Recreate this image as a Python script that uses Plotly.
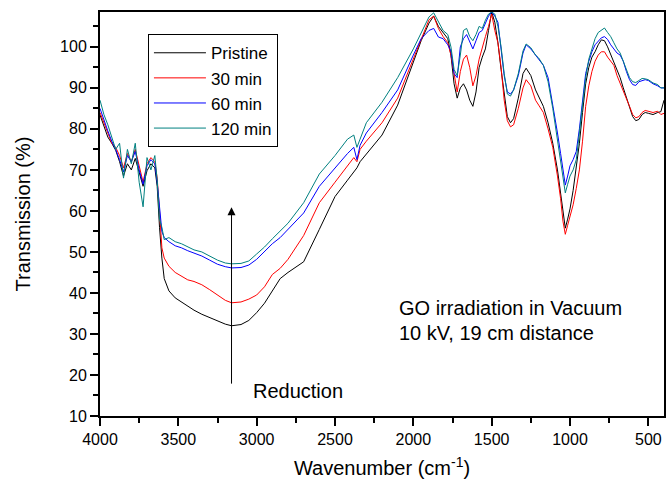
import plotly.graph_objects as go

wavenumber = [
    4000, 3975, 3950, 3925, 3900, 3875, 3850, 3825, 3800, 3775,
    3750, 3725, 3700, 3675, 3650, 3635, 3620, 3605, 3590, 3560,
    3520, 3480, 3440, 3400, 3350, 3300, 3250, 3200, 3160, 3100,
    3050, 3000, 2950, 2900, 2850, 2800, 2700, 2600, 2500, 2420,
    2380, 2360, 2340, 2300, 2200, 2100, 2000, 1950, 1900, 1870,
    1840, 1810, 1780, 1760, 1740, 1720, 1700, 1680, 1660, 1640,
    1620, 1600, 1580, 1560, 1540, 1520, 1500, 1480, 1460, 1440,
    1420, 1400, 1380, 1360, 1330, 1300, 1280, 1250, 1220, 1200,
    1170, 1140, 1110, 1080, 1060, 1045, 1030, 1015, 1000, 980,
    960, 940, 920, 900, 880, 860, 840, 820, 800, 780,
    760, 740, 720, 700, 680, 660, 640, 620, 600, 580,
    560, 540, 520, 500, 470, 440, 420, 400,
]

pristine = [
    83.4, 80.5, 78.0, 76.5, 74.8, 72.0, 68.5, 71.5, 70.0, 72.8,
    69.5, 66.0, 69.8, 71.5, 70.5, 66.0, 56.0, 48.5, 43.5, 40.5,
    38.8, 37.8, 36.8, 35.8, 34.8, 34.0, 33.2, 32.4, 32.0, 32.3,
    33.3, 35.2, 37.5, 40.5, 43.5, 45.0, 47.6, 55.5, 63.5, 67.5,
    69.5, 70.5, 72.0, 73.8, 78.5, 85.8, 96.5, 101.5, 105.8, 107.5,
    105.0, 103.5, 102.0, 98.0, 91.0, 87.5, 90.0, 91.0, 89.5, 87.0,
    85.5, 89.0, 95.0, 97.5, 99.5, 104.0, 108.5, 106.0, 101.0, 94.5,
    88.0, 83.0, 81.5, 82.5, 87.5, 93.5, 94.8, 93.0, 89.5, 88.0,
    85.5, 81.5, 76.5, 70.0, 64.5, 59.5, 55.8, 58.0, 60.5, 65.0,
    70.5, 76.5, 84.0, 91.0, 95.0, 97.5, 98.8, 100.5, 101.7, 101.5,
    100.0, 98.2, 96.5, 94.5, 92.5, 90.0, 87.5, 85.0, 83.0, 82.0,
    82.3, 83.5, 84.0, 83.8, 83.5, 84.0, 84.2, 87.0,
]

min30 = [
    84.0, 81.5, 79.5, 76.5, 75.5, 73.5, 70.5, 74.0, 72.0, 75.0,
    71.0, 67.0, 71.5, 73.0, 72.0, 68.0, 60.0, 51.0, 48.5, 46.5,
    45.0, 44.0, 43.2, 42.8, 42.0, 40.8, 39.5, 38.2, 37.6, 37.8,
    38.5, 39.5, 41.5, 44.5, 46.0, 48.2, 54.0, 62.0, 67.0, 71.2,
    73.0, 72.0, 75.0, 77.0, 81.5, 87.5, 97.0, 102.0, 106.6, 107.5,
    104.5, 102.5, 101.0, 98.0, 93.0, 89.0, 94.0, 97.0, 98.0, 95.0,
    90.5, 93.0, 97.0, 100.0, 102.5, 105.0, 108.0, 104.0, 101.0, 95.0,
    87.0, 82.0, 80.5, 81.0, 85.0, 90.0, 92.0, 90.5, 87.0, 85.8,
    84.0, 80.0, 75.5, 68.5, 63.0, 57.5, 54.3, 56.5, 58.5, 61.5,
    65.5, 70.0, 77.0, 85.5, 90.5, 94.0, 96.5, 98.0, 98.8, 98.8,
    97.5, 96.5, 95.5, 93.0, 91.0, 89.5, 87.5, 85.5, 83.5, 82.7,
    83.0, 84.0, 84.5, 84.3, 84.0, 84.3, 83.5, 83.8,
]

min60 = [
    85.0, 82.0, 79.5, 77.0, 75.0, 72.5, 69.5, 73.5, 72.0, 74.5,
    70.0, 66.5, 71.0, 72.5, 71.5, 67.0, 60.0, 55.0, 53.5, 52.5,
    51.5, 51.0, 50.3, 49.8, 49.0, 48.0, 47.0, 46.4, 46.1, 46.2,
    46.8, 48.2, 50.0, 52.0, 53.5, 55.5, 59.5, 66.0, 70.5, 74.0,
    75.5, 72.5, 76.0, 79.0, 84.0, 89.5, 98.0, 102.0, 104.0, 104.5,
    102.4, 102.0, 100.5, 99.0, 93.5, 92.5, 100.0, 102.0, 103.0, 101.0,
    99.5, 101.5, 103.5, 104.0, 106.0, 107.5, 108.5, 107.5, 106.0, 100.0,
    93.0, 89.0, 88.5, 89.5, 93.0, 98.5, 100.5, 99.5, 98.0, 97.0,
    95.5, 92.5, 86.0, 79.0, 74.0, 70.0, 66.3, 68.5, 71.0, 72.5,
    74.5, 80.0, 87.0, 93.5, 96.5, 98.8, 100.5, 101.5, 102.2, 102.5,
    101.8, 100.5, 99.5, 98.5, 98.0, 96.5, 94.0, 92.0, 90.8, 90.6,
    91.5, 91.8, 92.0, 91.8, 91.0, 90.5, 90.0, 90.0,
]

min120 = [
    87.0, 83.5, 81.0, 78.0, 75.0, 76.5, 68.0, 75.0, 71.5, 76.5,
    67.0, 61.0, 73.0, 70.0, 73.5, 67.5, 58.0, 56.0, 53.0, 53.5,
    52.5, 52.0, 51.2, 50.5, 50.0, 49.0, 48.0, 47.3, 47.1, 47.2,
    47.8, 49.5, 51.2, 53.2, 55.0, 57.0, 62.0, 69.0, 73.5, 77.5,
    78.5, 75.5, 77.5, 81.5, 86.5, 92.5, 99.5, 103.5, 107.3, 108.3,
    106.0, 104.0, 103.0, 100.0, 94.5, 93.0, 98.0, 104.0, 104.5, 102.5,
    101.5, 103.0, 105.0, 104.5, 106.5, 108.0, 108.5, 108.0, 105.0, 100.0,
    93.5, 88.5, 88.0, 89.5, 93.5, 99.0, 100.7, 99.8, 98.0, 97.3,
    95.5, 91.5, 85.0, 77.0, 72.0, 67.5, 64.4, 66.5, 68.5, 70.0,
    72.5, 79.0, 86.0, 92.5, 97.0, 99.8, 102.0, 103.5, 104.1, 104.6,
    103.5, 102.5, 101.0, 99.5, 98.5, 96.5, 94.0, 92.5, 91.5, 91.3,
    91.8, 92.3, 92.2, 92.0, 91.2, 90.8, 90.0, 90.0,
]

series_names = ["Pristine", "30 min", "60 min", "120 min"]
series_values = [pristine, min30, min60, min120]
series_colors = ["#000000", "#FF0000", "#0000FF", "#008080"]

x_ticks = [4000, 3500, 3000, 2500, 2000, 1500, 1000, 500]
y_ticks = [10, 20, 30, 40, 50, 60, 70, 80, 90, 100]

FONT = "Liberation Sans, Arial, sans-serif"

fig = go.Figure()
for name, vals, col in zip(series_names, series_values, series_colors):
    fig.add_trace(go.Scatter(x=wavenumber, y=vals, mode="lines", name=name,
                             line=dict(color=col, width=1)))

fig.update_layout(
    width=668, height=481,
    margin=dict(l=100, r=2, t=12, b=65),
    paper_bgcolor="white", plot_bgcolor="white",
    font=dict(family=FONT, color="black", size=16),
    showlegend=True,
    legend=dict(x=0.085, y=0.945, xanchor="left", yanchor="top",
                bordercolor="black", borderwidth=1, bgcolor="white",
                font=dict(size=17, family=FONT), itemwidth=52,
                tracegroupgap=0),
    xaxis=dict(range=[4000, 400], tickvals=x_ticks, ticktext=[str(v) for v in x_ticks],
               ticks="outside", ticklen=8, tickwidth=2, tickcolor="black",
               showline=True, linecolor="black", linewidth=2, mirror=True,
               showgrid=False, zeroline=False,
               minor=dict(dtick=250, ticks="outside", ticklen=5, tickwidth=2, tickcolor="black"),
               tickfont=dict(size=16),
               title=dict(text="Wavenumber (cm<sup>-1</sup>)", font=dict(size=20), standoff=14)),
    yaxis=dict(range=[10, 108.5], tickvals=y_ticks,
               ticks="outside", ticklen=8, tickwidth=2, tickcolor="black",
               showline=True, linecolor="black", linewidth=2, mirror=True,
               showgrid=False, zeroline=False,
               minor=dict(dtick=5, ticks="outside", ticklen=5, tickwidth=2, tickcolor="black"),
               tickfont=dict(size=16),
               title=dict(text="Transmission (%)", font=dict(size=20), standoff=24)),
)

fig.add_annotation(xref="paper", yref="paper", x=0.5265, y=0.267, xanchor="left", yanchor="middle",
                   text="GO irradiation in Vacuum", showarrow=False, font=dict(size=20))
fig.add_annotation(xref="paper", yref="paper", x=0.5265, y=0.205, xanchor="left", yanchor="middle",
                   text="10 kV, 19 cm distance", showarrow=False, font=dict(size=20))
fig.add_annotation(xref="paper", yref="paper", x=0.2686, y=0.062, xanchor="left", yanchor="middle",
                   text="Reduction", showarrow=False, font=dict(size=20))
fig.add_annotation(xref="paper", yref="paper", x=0.2332, y=0.517, text="",
                   showarrow=True, ax=0, ay=178, arrowhead=2, arrowsize=1.6,
                   arrowwidth=1, arrowcolor="black")

fig.write_html("out.html", config={"displayModeBar": False},
               post_script="document.body.style.margin='0px';document.body.style.overflow='hidden';")
